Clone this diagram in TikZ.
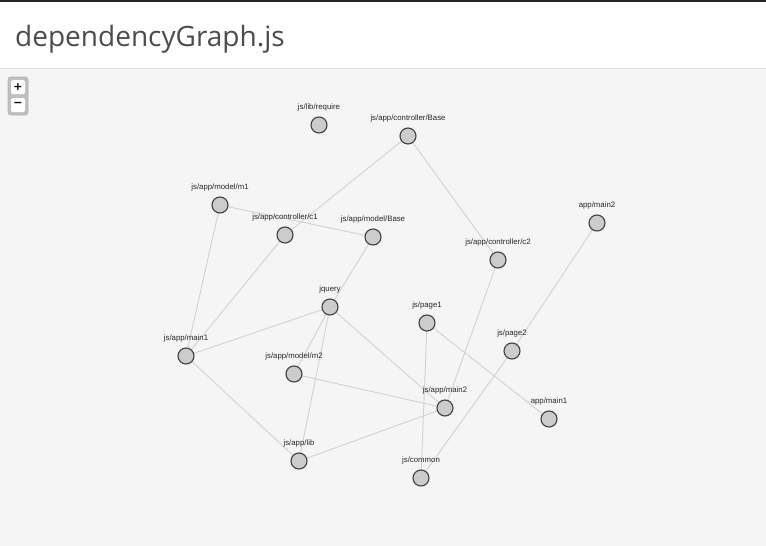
\documentclass[tikz,border=0pt]{standalone}
\usepackage{fontspec}
\setmainfont{Liberation Sans}
\newfontfamily\titlefont{Open Sans}
\newfontfamily\symfont{DejaVu Sans}
\begin{document}
\begin{tikzpicture}[x=1pt,y=-1pt,
  vtx/.style={circle,draw=black!75,fill=black!20,line width=1.1pt,minimum size=16pt,inner sep=0pt},
  lbl/.style={font=\fontsize{7.8}{9}\selectfont,text=black!85,inner sep=0pt},
  edge/.style={draw=black!18,line width=0.9pt},
  zbtn/.style={fill=white,rounded corners=1.5pt,minimum width=14pt,minimum height=14pt,inner sep=0pt,font=\symfont\bfseries\fontsize{11}{12}\selectfont}]
\useasboundingbox (0,0) rectangle (766,546);
\fill[white] (0,0) rectangle (766,68);
\fill[black!4] (0,68) rectangle (766,546);
\draw[black!85,line width=1.5pt] (0,0.75) -- (766,0.75);
\draw[black!12,line width=0.8pt] (0,68) -- (766,68);
\node[anchor=base west,inner sep=0pt,font=\titlefont\fontsize{28}{32}\selectfont,text=black!70] (title) at (15,46) {dependencyGraph.js};
% zoom control
\node[draw=black!30,fill=black!25,rounded corners=3pt,line width=0.8pt,minimum width=20pt,minimum height=38pt,inner sep=0pt] (zoomctl) at (18,96) {};
\node[zbtn] (zin) at (18,87) {+};
\node[zbtn] (zout) at (18,105) {\raisebox{0.5pt}{−}};
% node positions
\foreach \n/\x/\y in {require/319/125, cbase/408/136, m1/220/205, c1/285/235,
 mbase/373/237, c2/498/260, amain2/597/223, jquery/330/307, page1/427/323,
 main1/186/356, page2/512/351, m2/294/374, main2/445/408, amain1/549/419,
 lib/299/461, common/421/478}
 {\coordinate (\n) at (\x,\y);}
% edges
\foreach \a/\b in {cbase/c1,cbase/c2,m1/mbase,m1/main1,c1/main1,mbase/jquery,
  jquery/main1,jquery/m2,jquery/lib,jquery/main2,main1/lib,m2/main2,lib/main2,
  c2/main2,page1/common,page1/amain1,amain2/page2,page2/common}
  \draw[edge] (\a) -- (\b);
% circles and labels
\foreach \n/\t in {
 require/js\slash lib\slash require,
 cbase/js\slash app\slash controller\slash Base,
 m1/js\slash app\slash model\slash m1,
 c1/js\slash app\slash controller\slash c1,
 mbase/js\slash app\slash model\slash Base,
 c2/js\slash app\slash controller\slash c2,
 amain2/app\slash main2,
 jquery/jquery,
 page1/js\slash page1,
 main1/js\slash app\slash main1,
 page2/js\slash page2,
 m2/js\slash app\slash model\slash m2,
 main2/js\slash app\slash main2,
 amain1/app\slash main1,
 lib/js\slash app\slash lib,
 common/js\slash common}
 {\node[vtx] (\n-c) at (\n) {};
  \node[lbl,anchor=base] (\n-l) at ([yshift=16pt]\n) {\t};}
\end{tikzpicture}
\end{document}
